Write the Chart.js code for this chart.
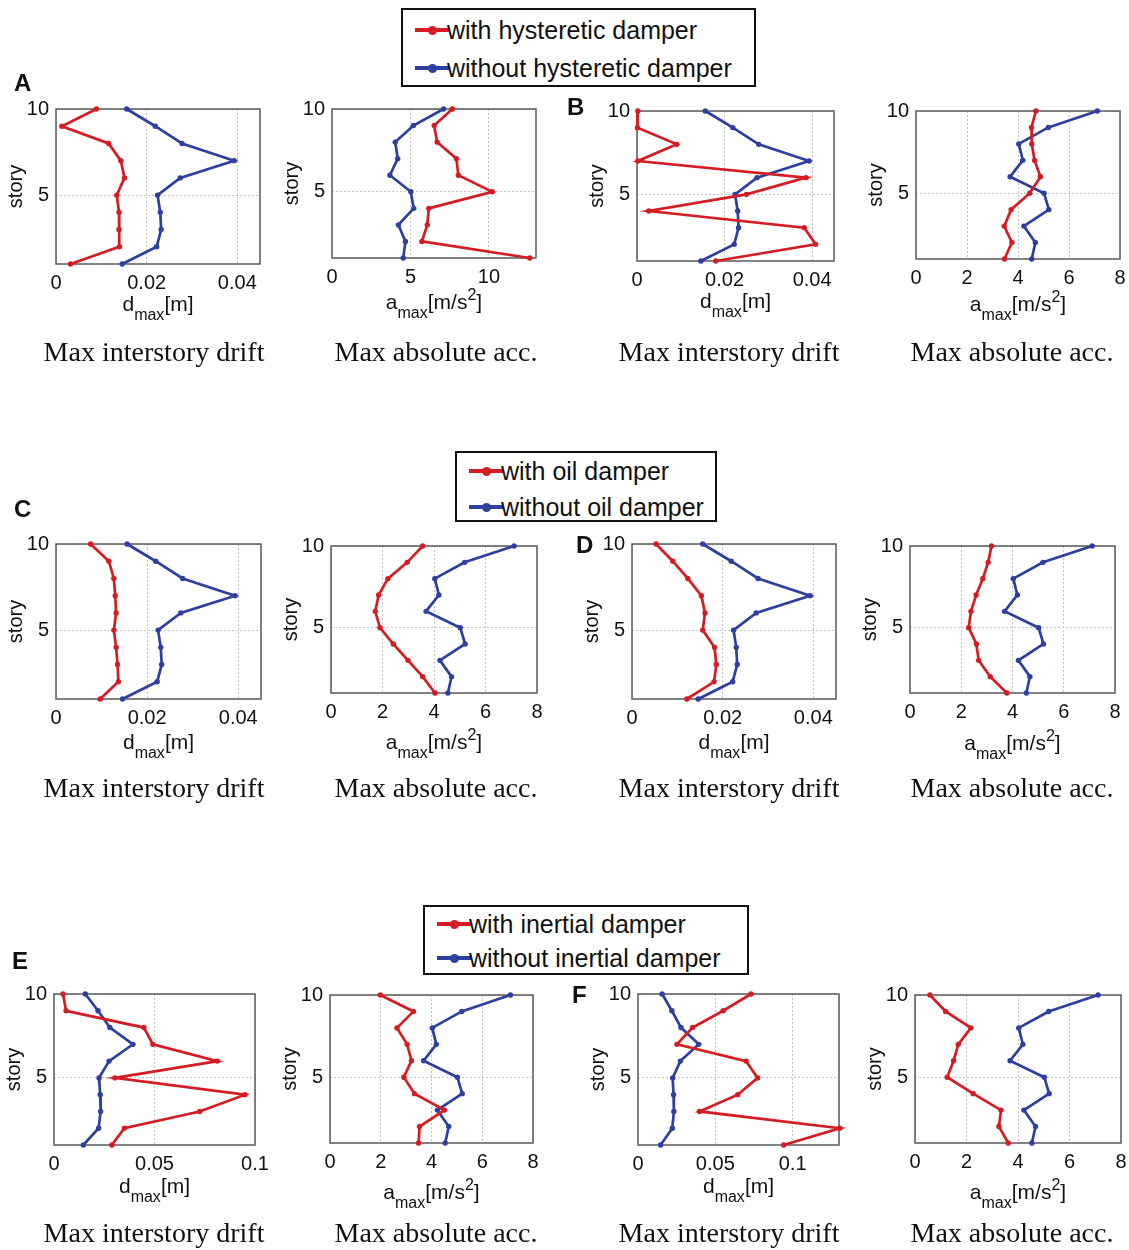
<!DOCTYPE html>
<html>
<head>
<meta charset="utf-8">
<script src="https://cdn.jsdelivr.net/npm/chart.js@4.4.0/dist/chart.umd.min.js"></script>
<style>
  html,body{margin:0;padding:0;background:#fff;overflow:hidden;}
  body{width:1129px;height:1250px;position:relative;font-family:"Liberation Sans",Arial,sans-serif;color:#111;}
  .xt{position:absolute;font-size:21px;line-height:24px;white-space:nowrap;transform:translateX(-50%);}
  .xt sub,.xt sup{font-size:16px;line-height:0;}
  .xt sub{vertical-align:-0.55em;}
  .xt sup{vertical-align:0.55em;}
  .cap{position:absolute;font-family:"Liberation Serif","Times New Roman",serif;font-size:28px;line-height:1;white-space:nowrap;transform:translate(-50%,-50%);}
  .tag{position:absolute;font-weight:bold;font-size:24px;line-height:1;}
  .legend{position:absolute;border:2px solid #111;box-sizing:border-box;background:#fff;}
  .lrow{position:absolute;left:0;right:0;height:0;}
  .swatch{position:absolute;left:12px;width:34px;height:4px;top:-2px;}
  .dot{position:absolute;left:25px;width:9px;height:9px;top:-4.5px;border-radius:50%;}
  .ltxt{position:absolute;left:44px;font-size:25px;line-height:30px;top:-15px;white-space:nowrap;}
</style>
</head>
<body>
<script>
(function(){
  // story numbers, top to bottom
  const stories = [10,9,8,7,6,5,4,3,2,1];

  // building without damper (same in every case)
  const driftWithout = [0.0156,0.0219,0.0278,0.0393,0.0274,0.0224,0.0230,0.0232,0.0222,0.0146];
  const accWithout   = [7.11,5.19,4.03,4.19,3.69,5.02,5.21,4.23,4.68,4.54];

  // A / B : hysteretic damper
  const driftHystA = [0.0089,0.0013,0.0116,0.0143,0.0151,0.0134,0.0139,0.0139,0.0140,0.0032];
  const accHystA   = [7.67,6.51,6.70,7.93,8.05,10.21,6.17,6.07,5.73,12.6];
  const driftHystB = [0.0002,0.0001,0.0091,0.0002,0.0386,0.0250,0.0027,0.0382,0.0408,0.0180];
  const accHystB   = [4.70,4.53,4.54,4.65,4.88,4.46,3.73,3.46,3.76,3.47];

  // C / D : oil damper
  const driftOilC = [0.0076,0.0116,0.0127,0.0130,0.0132,0.0127,0.0132,0.0135,0.0137,0.0097];
  const accOilC   = [3.56,2.96,2.21,1.85,1.72,1.90,2.42,2.99,3.56,4.04];
  const driftOilD = [0.0053,0.0090,0.0123,0.0153,0.0161,0.0156,0.0182,0.0186,0.0181,0.0121];
  const accOilD   = [3.18,3.05,2.84,2.58,2.38,2.29,2.59,2.68,3.13,3.78];

  // E / F : inertial damper
  const driftInertE = [0.0045,0.0060,0.0447,0.0492,0.0813,0.0303,0.0950,0.0725,0.0350,0.0288];
  const accInertE   = [1.98,3.29,2.64,3.04,3.21,2.91,3.33,4.51,3.53,3.49];
  const driftInertF = [0.0731,0.0551,0.0353,0.0252,0.0699,0.0774,0.0645,0.0398,0.1305,0.0942];
  const accInertF   = [0.58,1.19,2.17,1.68,1.50,1.25,2.26,3.34,3.26,3.62];

  // tick values / labels
  const storyTicks = [5,10];
  const storyTickLabels = ['5','10'];
  const driftTicks = [0,0.02,0.04];
  const driftTickLabels = ['0','0.02','0.04'];
  const driftTicksBig = [0,0.05,0.1];
  const driftTickLabelsBig = ['0','0.05','0.1'];
  const accTicksWide = [0,5,10];
  const accTickLabelsWide = ['0','5','10'];
  const accTicks = [0,2,4,6,8];
  const accTickLabels = ['0','2','4','6','8'];

  const legendLabels = [
    ['with hysteretic damper','without hysteretic damper'],
    ['with oil damper','without oil damper'],
    ['with inertial damper','without inertial damper']
  ];
  const panelTags = ['A','B','C','D','E','F'];
  const captionDrift = 'Max interstory drift';
  const captionAcc = 'Max absolute acc.';

  const RED = '#d41c22', BLUE = '#2d3f9f';
  const FONT = '"Liberation Sans", Arial, sans-serif';
  // tick label padding adds to the scale padding, so keep these larger than label half-size + padding
  const YW = 60, PT = 22, PR = 24, XH = 34;

  // plot-area boxes [left, top, right, bottom] and x-title baseline
  const panels = [
    {box:[56,109,260,264],  red:driftHystA,  blue:driftWithout, xMax:0.045, t:driftTicks,    l:driftTickLabels,    kind:'d', tb:308},
    {box:[332,109,536,258], red:accHystA,    blue:accWithout,   xMax:13,    t:accTicksWide,  l:accTickLabelsWide,  kind:'a', tb:306},
    {box:[637,111,834,261], red:driftHystB,  blue:driftWithout, xMax:0.045, t:driftTicks,    l:driftTickLabels,    kind:'d', tb:305},
    {box:[916,111,1120,259],red:accHystB,    blue:accWithout,   xMax:8,     t:accTicks,      l:accTickLabels,      kind:'a', tb:308},
    {box:[56,544,261,699],  red:driftOilC,   blue:driftWithout, xMax:0.045, t:driftTicks,    l:driftTickLabels,    kind:'d', tb:746},
    {box:[331,546,537,693], red:accOilC,     blue:accWithout,   xMax:8,     t:accTicks,      l:accTickLabels,      kind:'a', tb:746},
    {box:[632,544,836,699], red:driftOilD,   blue:driftWithout, xMax:0.045, t:driftTicks,    l:driftTickLabels,    kind:'d', tb:746},
    {box:[910,546,1115,693],red:accOilD,     blue:accWithout,   xMax:8,     t:accTicks,      l:accTickLabels,      kind:'a', tb:747},
    {box:[54,994,255,1145], red:driftInertE, blue:driftWithout, xMax:0.1,   t:driftTicksBig, l:driftTickLabelsBig, kind:'d', tb:1190},
    {box:[330,995,533,1143],red:accInertE,   blue:accWithout,   xMax:8,     t:accTicks,      l:accTickLabels,      kind:'a', tb:1196},
    {box:[638,994,839,1145],red:driftInertF, blue:driftWithout, xMax:0.13,  t:driftTicksBig, l:driftTickLabelsBig, kind:'d', tb:1190},
    {box:[915,995,1121,1143],red:accInertF,  blue:accWithout,   xMax:8,     t:accTicks,      l:accTickLabels,      kind:'a', tb:1196}
  ];

  const legendBoxes = [[401,8,756,87,30,68],[455,451,717,522,471,507],[423,905,749,975,924,958]];
  const tagPos = [[14,71],[567,95],[14,497],[576,533],[12,949],[572,983]];
  const captionX = [154,436,729,1012];
  const captionY = [352,788,1233];

  const framePlugin = {
    id:'frame',
    beforeDatasetsDraw(chart){
      const {ctx, chartArea:a} = chart;
      ctx.save();
      ctx.strokeStyle = '#5a5a5a';
      ctx.lineWidth = 1.5;
      ctx.strokeRect(a.left, a.top, a.right - a.left, a.bottom - a.top);
      ctx.restore();
    }
  };

  function pts(vals){
    return vals.map((v,i)=>({x:v, y:stories[i]}));
  }

  function series(vals, color){
    return {
      data: pts(vals), showLine:true,
      borderColor: color, backgroundColor: color,
      borderWidth: 2.7, pointRadius: 2.7, pointHoverRadius: 0,
      pointBorderWidth: 0, clip: false
    };
  }

  function makePanel(p){
    const [L,T,R,B] = p.box;
    const w = YW + (R - L) + PR, h = PT + (B - T) + XH;
    const canvas = document.createElement('canvas');
    canvas.width = w; canvas.height = h;
    canvas.style.cssText = `position:absolute;left:${L-YW}px;top:${T-PT}px;width:${w}px;height:${h}px;`;
    document.body.appendChild(canvas);

    const grid = {color:'#c4c4c4', lineWidth:1, drawTicks:false};
    const border = {display:false, dash:[2,2]};
    new Chart(canvas, {
      type:'scatter',
      data:{datasets:[series(p.red, RED), series(p.blue, BLUE)]},
      options:{
        responsive:false, animation:false, events:[],
        layout:{padding:{top:PT, right:PR, left:0, bottom:0}},
        plugins:{legend:{display:false}, tooltip:{enabled:false}},
        scales:{
          x:{
            type:'linear', min:0, max:p.xMax,
            afterBuildTicks: s=>{ s.ticks = p.t.map(v=>({value:v})); },
            afterFit: s=>{ s.height = XH; },
            ticks:{callback: v=>p.l[p.t.indexOf(v)], font:{family:FONT, size:20}, color:'#111', padding:7, maxRotation:0, autoSkip:false},
            grid, border
          },
          y:{
            type:'linear', min:1, max:10,
            afterBuildTicks: s=>{ s.ticks = storyTicks.map(v=>({value:v})); },
            afterFit: s=>{ s.width = YW; },
            ticks:{callback: v=>storyTickLabels[storyTicks.indexOf(v)], font:{family:FONT, size:20}, color:'#111', padding:7},
            grid, border,
            title:{display:true, text:'story', font:{family:FONT, size:20}, color:'#111', padding:{top:8, bottom:0}}
          }
        }
      },
      plugins:[framePlugin]
    });

    const xt = document.createElement('div');
    xt.className = 'xt';
    xt.style.left = ((L + R) / 2) + 'px';
    xt.style.top = (p.tb - 16) + 'px';
    xt.innerHTML = p.kind === 'd' ? 'd<sub>max</sub>[m]' : 'a<sub>max</sub>[m/s<sup>2</sup>]';
    document.body.appendChild(xt);
  }

  function makeLegend(box, labels){
    const [l,t,r,b,y1,y2] = box;
    const el = document.createElement('div');
    el.className = 'legend';
    el.style.cssText = `left:${l}px;top:${t}px;width:${r-l}px;height:${b-t}px;`;
    [[y1,RED,labels[0]],[y2,BLUE,labels[1]]].forEach(([y,c,txt])=>{
      const row = document.createElement('div');
      row.className = 'lrow';
      row.style.top = (y - t - 2) + 'px';
      row.innerHTML = `<div class="swatch" style="background:${c}"></div><div class="dot" style="background:${c}"></div><div class="ltxt">${txt}</div>`;
      el.appendChild(row);
    });
    document.body.appendChild(el);
  }

  panels.forEach(makePanel);
  legendBoxes.forEach((b,i)=>makeLegend(b, legendLabels[i]));

  panelTags.forEach((tag,i)=>{
    const el = document.createElement('div');
    el.className = 'tag';
    el.style.left = tagPos[i][0] + 'px';
    el.style.top = tagPos[i][1] + 'px';
    el.textContent = tag;
    document.body.appendChild(el);
  });

  captionY.forEach(y=>{
    captionX.forEach((x,j)=>{
      const el = document.createElement('div');
      el.className = 'cap';
      el.style.left = x + 'px';
      el.style.top = y + 'px';
      el.textContent = j % 2 === 0 ? captionDrift : captionAcc;
      document.body.appendChild(el);
    });
  });
})();
</script>
</body>
</html>
